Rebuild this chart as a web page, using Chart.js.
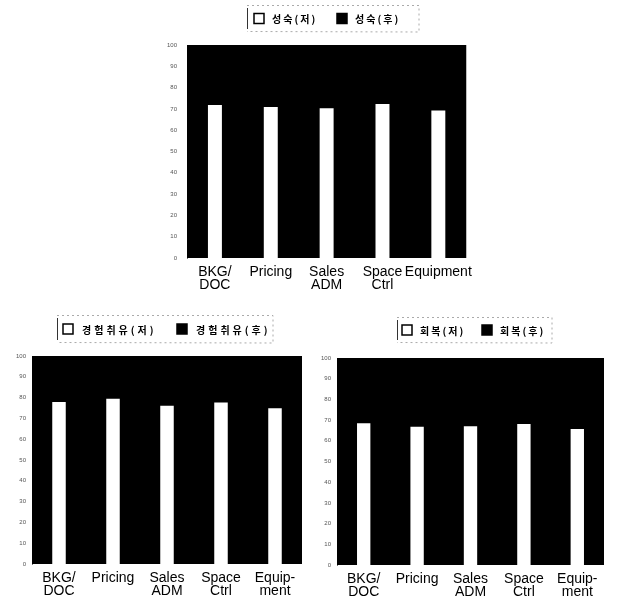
<!DOCTYPE html>
<html>
<head>
<meta charset="utf-8">
<script src="https://cdn.jsdelivr.net/npm/chart.js@4"></script>
<style>
  body { margin: 0; background: #fff; width: 623px; height: 614px; position: relative; overflow: hidden; }
  canvas { position: absolute; }
</style>
</head>
<body>
<canvas id="chartTop" style="left:120px; top:0px; width:360px; height:300px;"></canvas>
<canvas id="chartLeft" style="left:0px; top:300px; width:310px; height:310px;"></canvas>
<canvas id="chartRight" style="left:310px; top:300px; width:313px; height:310px;"></canvas>
<script>
//////////////////////
// data
//////////////////////
const topCategories = [['BKG/', 'DOC'], 'Pricing', ['Sales', 'ADM'], ['Space', 'Ctrl'], 'Equipment'];
const bottomCategories = [['BKG/', 'DOC'], 'Pricing', ['Sales', 'ADM'], ['Space', 'Ctrl'], ['Equip-', 'ment']];
const yTicks = [0, 10, 20, 30, 40, 50, 60, 70, 80, 90, 100];

const maturityLabels = ['성숙(저)', '성숙(후)'];
const maturityLow = [71.8, 70.9, 70.3, 72.3, 69.2];
const maturityHigh = [100, 100, 100, 100, 100];

const sharingLabels = ['경험취유(저)', '경험취유(후)'];
const sharingLow = [77.9, 79.5, 76.1, 77.7, 74.9];
const sharingHigh = [100, 100, 100, 100, 100];

const recoveryLabels = ['회복(저)', '회복(후)'];
const recoveryLow = [68.5, 66.8, 67.0, 68.1, 65.7];
const recoveryHigh = [100, 100, 100, 100, 100];

//////////////////////
// legend box plugin
//////////////////////
const legendBox = {
  id: 'legendBox',
  afterDraw(chart, args, opts) {
    const ctx = chart.ctx;
    ctx.save();
    // dotted frame, solid left edge
    ctx.strokeStyle = '#aaa';
    ctx.lineWidth = 1;
    ctx.setLineDash([2, 3]);
    ctx.beginPath();
    ctx.moveTo(opts.x, opts.y + 0.5);
    ctx.lineTo(opts.x + opts.w, opts.y + 0.5);
    ctx.lineTo(opts.x + opts.w, opts.y + opts.h);
    ctx.lineTo(opts.x, opts.y + opts.h - 0.5);
    ctx.stroke();
    ctx.setLineDash([]);
    ctx.strokeStyle = '#333';
    ctx.beginPath();
    ctx.moveTo(opts.x + 0.5, opts.y + 3);
    ctx.lineTo(opts.x + 0.5, opts.y + opts.h - 3);
    ctx.stroke();

    const cy = opts.y + opts.h / 2;
    chart.data.datasets.forEach(function (ds, i) {
      const x = opts.x + opts.itemX[i];
      ctx.fillStyle = ds.legendFill;
      ctx.fillRect(x, cy - 5, 10, 10);
      ctx.strokeStyle = '#000';
      ctx.lineWidth = 1.5;
      ctx.strokeRect(x, cy - 5, 10, 10);
      ctx.fillStyle = '#000';
      ctx.font = 'bold 10px "Noto Sans CJK KR"';
      ctx.letterSpacing = opts.spacing + 'px';
      ctx.textBaseline = 'middle';
      ctx.fillText(ds.label, x + opts.textGap, cy + 1);
    });
    ctx.restore();
  }
};

//////////////////////
// chart builder
//////////////////////
function makeChart(canvasId, categories, labels, lowValues, highValues, layout) {
  // white "before" bars sit on top of the full-width black "after" bars
  const data = {
    labels: categories,
    datasets: [{
      label: labels[0],
      data: lowValues,
      backgroundColor: '#ffffff',
      legendFill: '#ffffff',
      borderWidth: 0,
      grouped: false,
      categoryPercentage: 0.5,
      barPercentage: 0.5
    },
    {
      label: labels[1],
      data: highValues,
      backgroundColor: '#000000',
      legendFill: '#000000',
      borderWidth: 0,
      inflateAmount: 1,
      grouped: false,
      categoryPercentage: 1,
      barPercentage: 1
    }]
  };

  const config = {
    type: 'bar',
    data: data,
    options: {
      responsive: false,
      animation: false,
      devicePixelRatio: 1,
      layout: {
        padding: { top: layout.top, right: layout.right, left: 0, bottom: 0 }
      },
      plugins: {
        legend: { display: false },
        tooltip: { enabled: false },
        legendBox: layout.legend
      },
      scales: {
        x: {
          grid: { display: false, drawTicks: false },
          border: { display: false },
          ticks: {
            color: '#000',
            padding: 7,
            maxRotation: 0,
            autoSkip: false,
            font: { family: 'Liberation Sans', size: 14, lineHeight: 0.95 }
          },
          afterFit: function (scale) { scale.height = layout.xHeight; }
        },
        y: {
          min: 0,
          max: 100,
          afterBuildTicks: function (scale) {
            scale.ticks = yTicks.map(function (v) { return { value: v }; });
          },
          grid: { display: false, drawTicks: false },
          border: { display: true, color: '#777' },
          ticks: {
            color: '#555',
            padding: layout.tickPad,
            font: { family: 'Liberation Sans', size: 6 }
          },
          afterFit: function (scale) { scale.width = layout.yWidth; }
        }
      }
    },
    plugins: [legendBox]
  };
  const canvas = document.getElementById(canvasId);
  canvas.width = parseInt(canvas.style.width);
  canvas.height = parseInt(canvas.style.height);
  return new Chart(canvas, config);
}

//////////////////////
// start
//////////////////////
makeChart('chartTop', topCategories, maturityLabels, maturityLow, maturityHigh, {
  top: 45, right: 12, yWidth: 67, xHeight: 42, tickPad: 10,
  legend: { x: 127, y: 5, w: 172, h: 27, itemX: [7, 90], textGap: 18, spacing: 2 }
});

makeChart('chartLeft', bottomCategories, sharingLabels, sharingLow, sharingHigh, {
  top: 56, right: 8, yWidth: 32, xHeight: 46, tickPad: 6,
  legend: { x: 57, y: 15, w: 216, h: 28, itemX: [6, 120], textGap: 19, spacing: 3 }
});

makeChart('chartRight', bottomCategories, recoveryLabels, recoveryLow, recoveryHigh, {
  top: 58, right: 19, yWidth: 27, xHeight: 45, tickPad: 6,
  legend: { x: 87, y: 17, w: 155, h: 26, itemX: [5, 85], textGap: 18, spacing: 2 }
});
</script>
</body>
</html>
